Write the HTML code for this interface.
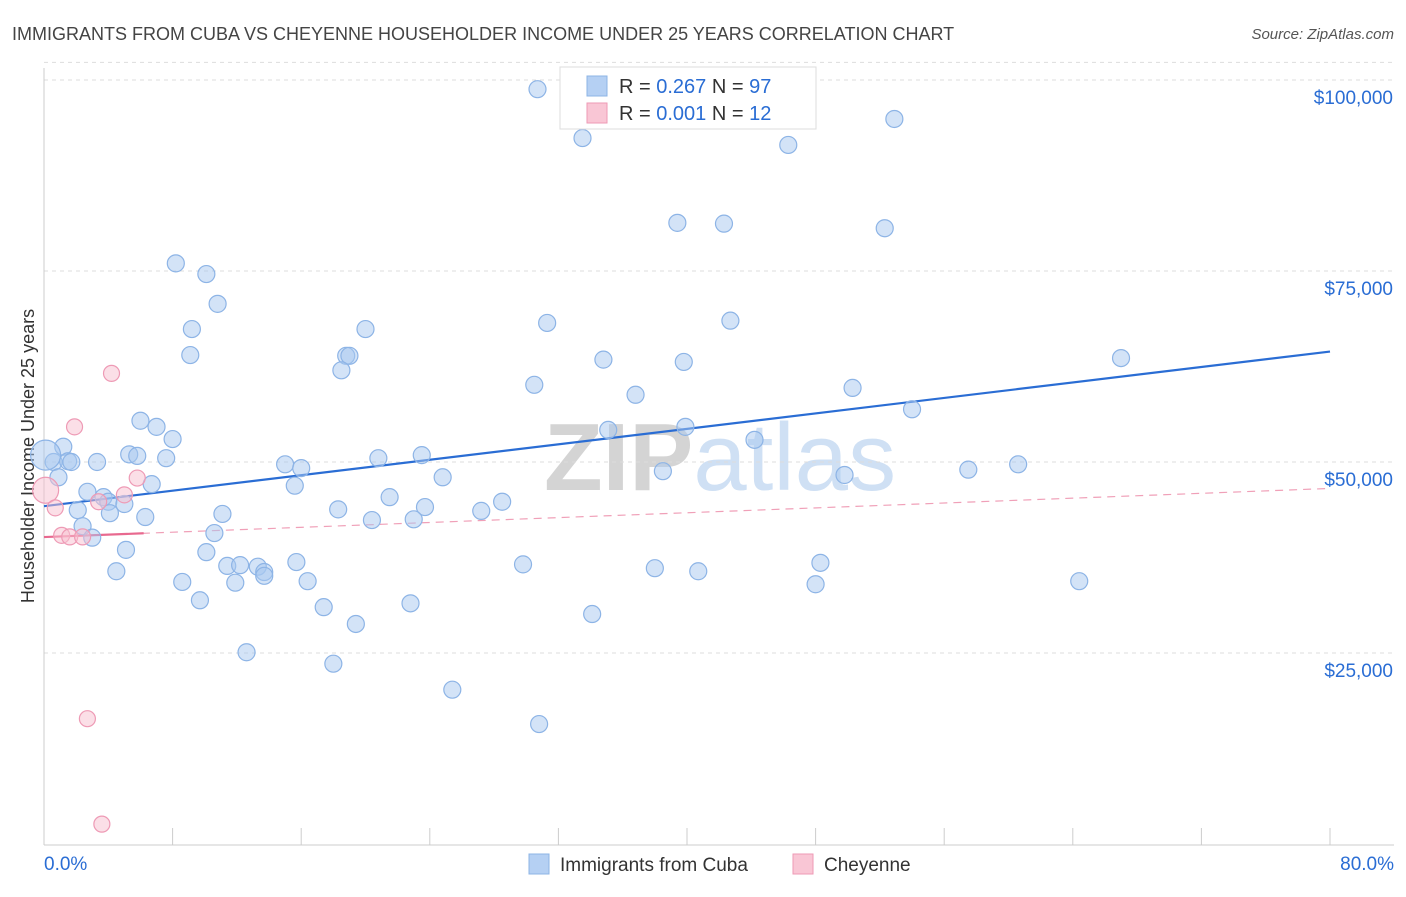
<!DOCTYPE html>
<html><head><meta charset="utf-8"><style>
body{margin:0;background:#fff;font-family:"Liberation Sans",sans-serif;}
svg text{font-family:"Liberation Sans",sans-serif;}
</style></head><body>
<svg id="chart" width="1406" height="892" xmlns="http://www.w3.org/2000/svg">
<text x="12" y="40" font-size="18" fill="#444">IMMIGRANTS FROM CUBA VS CHEYENNE HOUSEHOLDER INCOME UNDER 25 YEARS CORRELATION CHART</text>
<text x="1394" y="39" font-size="15" fill="#555" font-style="italic" text-anchor="end">Source: ZipAtlas.com</text>
<text x="720" y="490" font-size="96" fill="#ddd" text-anchor="middle" font-family="Liberation Serif"><tspan fill="#d4d4d4" font-weight="bold">ZIP</tspan><tspan fill="#cfe0f4" font-family="Liberation Sans">atlas</tspan></text>
<text transform="translate(34,456) rotate(-90)" font-size="18" fill="#333" text-anchor="middle">Householder Income Under 25 years</text>
<g id="grid"></g><g id="axes"></g><g id="lines"></g><g id="points"></g>
<g>
<rect x="560" y="67" width="256" height="62" fill="#fff" stroke="#ddd"/>
<rect x="587" y="76" width="20" height="20" fill="#b5d0f3" stroke="#8db4e6"/>
<rect x="587" y="103" width="20" height="20" fill="#f9c6d5" stroke="#ee9ab5"/>
<text x="619" y="93" font-size="20" fill="#333">R = <tspan fill="#2a6dd4">0.267</tspan>   N = <tspan fill="#2a6dd4">97</tspan></text>
<text x="619" y="120" font-size="20" fill="#333">R = <tspan fill="#2a6dd4">0.001</tspan>   N =  <tspan fill="#2a6dd4">12</tspan></text>
</g>
<g>
<rect x="529" y="854" width="20" height="20" fill="#b5d0f3" stroke="#8db4e6"/>
<text x="560" y="871" font-size="19" fill="#333">Immigrants from Cuba</text>
<rect x="793" y="854" width="20" height="20" fill="#f9c6d5" stroke="#ee9ab5"/>
<text x="824" y="871" font-size="19" fill="#333">Cheyenne</text>
</g>
</svg>
<script>
const yTicks=[25000,50000,75000,100000];
const yTickLabels=["$25,000","$50,000","$75,000","$100,000"];
const xTickLabels=["0.0%","80.0%"];
const cubaX=[30.7,33.5,46.3,52.9,39.4,42.3,52.3,8.2,10.1,10.8,9.2,20.0,31.3,42.7,9.1,18.8,19.0,18.5,34.8,39.8,67.0,30.5,36.8,50.3,54.0,6.0,7.0,8.0,1.2,5.3,5.8,7.6,0.6,1.5,1.7,3.3,35.1,39.9,44.2,20.8,23.5,15.0,16.0,38.5,49.8,57.5,60.6,0.9,6.7,24.8,15.6,2.7,3.7,4.0,5.0,4.1,2.1,21.5,28.5,18.3,23.7,6.3,11.1,20.4,23.0,27.2,2.4,3.0,10.6,5.1,10.1,4.5,11.4,12.2,13.3,13.7,13.7,15.7,11.9,8.6,16.4,29.8,38.0,40.7,48.3,48.0,64.4,9.7,17.4,22.8,34.1,19.4,12.6,18.0,25.4,30.8,0.1];
const cubaY=[98800,92400,91500,94900,81300,81200,80600,76000,74600,70700,67400,67400,68200,68500,64000,63900,63900,62000,63400,63100,63600,60100,58800,59700,56900,55400,54600,53000,52000,51000,50800,50500,50000,50100,50000,50000,54200,54600,52900,50500,50900,49700,49200,48800,48300,49000,49700,48000,47100,48000,46900,46100,45400,44800,44500,43300,43700,45400,44800,43800,44100,42800,43200,42400,42500,43600,41600,40100,40700,38500,38200,35700,36400,36500,36300,35600,35100,36900,34200,34300,34400,36600,36100,35700,36800,34000,34400,31900,31000,31500,30100,28800,25100,23600,20200,15700,50900];
const cheyX=[0.1,0.7,1.9,4.2,5.8,5.0,3.4,1.1,1.6,2.4,2.7,3.6];
const cheyY=[46300,44000,54600,61600,47900,45700,44800,40400,40200,40200,16400,2600];
const NS="http://www.w3.org/2000/svg";
const xs=v=>44+v/80*1286, ys=v=>844-v/25000*191;
function mk(t,a,p){const e=document.createElementNS(NS,t);for(const k in a)e.setAttribute(k,a[k]);document.getElementById(p).appendChild(e);return e;}
yTicks.forEach((t,i)=>{
 const g=mk('line',{x1:44,x2:1394,y1:ys(t),y2:ys(t),stroke:'#ddd','stroke-dasharray':'4,4'},'grid');
 
 
 const l=mk('text',{x:1393,y:ys(t)+24,'font-size':19,fill:'#2a6dd4','text-anchor':'end'},'axes');
 
 
 l.textContent=yTickLabels[i];
});
const gt=mk('line',{x1:44,x2:1394,y1:ys(102300),y2:ys(102300),stroke:'#ddd','stroke-dasharray':'4,4'},'grid');


const ya=mk('line',{x1:44,x2:44,y1:68,y2:845,stroke:'#ccc'},'axes');


const xa=mk('line',{x1:44,x2:1394,y1:845,y2:845,stroke:'#ccc'},'axes');


for(let i=0;i<=10;i++){const t=mk('line',{x1:xs(i*8),x2:xs(i*8),y1:828,y2:845,stroke:'#ccc'},'axes');
 
 }
[[0,'start',44],[80,'end',1394]].forEach((d,i)=>{const t=mk('text',{x:d[2],y:870,'font-size':19,fill:'#2a6dd4','text-anchor':d[1]},'axes');
 
 
 t.textContent=xTickLabels[i];});
function fit(X,Y){const n=X.length;let mx=0,my=0;for(let i=0;i<n;i++){mx+=X[i];my+=Y[i];}mx/=n;my/=n;let sxy=0,sxx=0;for(let i=0;i<n;i++){sxy+=(X[i]-mx)*(Y[i]-my);sxx+=(X[i]-mx)**2;}const b=sxy/sxx;return [my-b*mx,b];}
const fb=fit(cubaX,cubaY);
const bl=mk('line',{x1:xs(0),y1:ys(fb[0]),x2:xs(80),y2:ys(fb[0]+fb[1]*80),stroke:'#2a6dd4','stroke-width':2.2},'lines');


const fp=fit(cheyX,cheyY);
const pd=mk('line',{x1:xs(0),y1:ys(fp[0]),x2:xs(80),y2:ys(fp[0]+fp[1]*80),stroke:'#f0a0b8','stroke-width':1.2,'stroke-dasharray':'8,6'},'lines');


const ps=mk('line',{x1:xs(0),y1:ys(fp[0]),x2:xs(6.2),y2:ys(fp[0]+fp[1]*6.2),stroke:'#e8698f','stroke-width':2.2},'lines');


cubaX.forEach((x,i)=>{const big=i===cubaX.length-1;const c=mk('circle',{cx:xs(x),cy:ys(cubaY[i]),r:big?15:8.5,fill:'rgba(168,200,240,0.5)',stroke:'#8db4e6','stroke-width':1.2},'points');
 
 });
cheyX.forEach((x,i)=>{const c=mk('circle',{cx:xs(x),cy:ys(cheyY[i]),r:i===0?13:8,fill:'rgba(248,192,208,0.5)',stroke:'#ee9ab5','stroke-width':1.2},'points');
 
 });
</script>
</body></html>
